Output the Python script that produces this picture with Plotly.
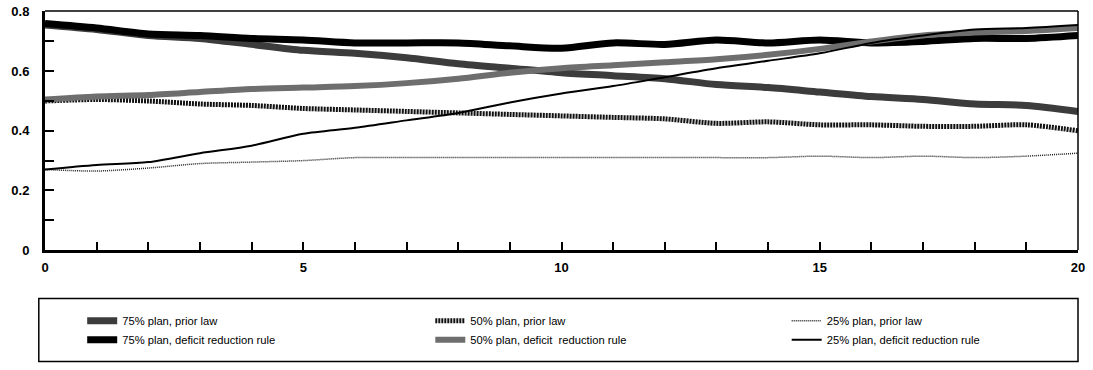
import plotly.graph_objects as go

years = list(range(0, 21))

plan75_prior = [0.755, 0.74, 0.72, 0.71, 0.69, 0.67, 0.66, 0.645, 0.625, 0.61, 0.595,
                0.585, 0.575, 0.555, 0.545, 0.53, 0.515, 0.505, 0.49, 0.485, 0.465]
plan75_drr = [0.76, 0.745, 0.725, 0.72, 0.71, 0.705, 0.695, 0.695, 0.695, 0.685, 0.677,
              0.695, 0.69, 0.705, 0.695, 0.705, 0.695, 0.70, 0.71, 0.71, 0.72]
plan50_prior = [0.50, 0.505, 0.50, 0.49, 0.485, 0.475, 0.47, 0.465, 0.46, 0.455, 0.45,
                0.445, 0.44, 0.425, 0.43, 0.42, 0.42, 0.415, 0.415, 0.42, 0.40]
plan50_drr = [0.505, 0.515, 0.52, 0.53, 0.54, 0.545, 0.55, 0.56, 0.575, 0.595, 0.61,
              0.62, 0.63, 0.64, 0.655, 0.675, 0.70, 0.72, 0.73, 0.735, 0.745]
plan25_prior = [0.27, 0.265, 0.275, 0.29, 0.295, 0.30, 0.31, 0.31, 0.31, 0.31, 0.31,
                0.31, 0.31, 0.31, 0.31, 0.315, 0.31, 0.315, 0.31, 0.315, 0.325]
plan25_drr = [0.27, 0.285, 0.295, 0.325, 0.35, 0.39, 0.41, 0.435, 0.46, 0.495, 0.525,
              0.55, 0.58, 0.61, 0.635, 0.66, 0.695, 0.72, 0.74, 0.745, 0.755]

names = ["75% plan, prior law", "75% plan, deficit reduction rule",
         "50% plan, prior law", "50% plan, deficit  reduction rule",
         "25% plan, prior law", "25% plan, deficit reduction rule"]

x_tickvals = list(range(0, 21))
x_ticktext = [str(v) if v % 5 == 0 else "" for v in x_tickvals]
y_tickvals = [0, 0.1, 0.2, 0.3, 0.4, 0.5, 0.6, 0.7, 0.8]
y_ticktext = ["0", "", "0.2", "", "0.4", "", "0.6", "", "0.8"]

series = [plan75_prior, plan75_drr, plan50_prior, plan50_drr, plan25_prior, plan25_drr]
styles = [
    dict(color="#3c3c3c", width=7, dash="solid"),
    dict(color="#000000", width=7, dash="solid"),
    dict(color="#111111", width=5, dash="2px,1px"),
    dict(color="#6e6e6e", width=6, dash="solid"),
    dict(color="#222222", width=1.5, dash="1px,1px"),
    dict(color="#000000", width=2, dash="solid"),
]
legend_ids = ["legend", "legend", "legend2", "legend2", "legend3", "legend3"]

fig = go.Figure()
for i, (name, ys, st, lg) in enumerate(zip(names, series, styles, legend_ids)):
    fig.add_trace(go.Scatter(x=years, y=ys, mode="lines", name=name,
                             legend=lg, legendgroup="g%d" % i,
                             line=dict(shape="spline", smoothing=0.8, **st)))

leg_common = dict(orientation="v", xanchor="left", y=-0.235, yanchor="top",
                  font=dict(size=11.2), bgcolor="rgba(0,0,0,0)", borderwidth=0,
                  tracegroupgap=4, traceorder="normal")

fig.update_layout(
    width=1093, height=370,
    margin=dict(l=45, r=15, t=4, b=120),
    paper_bgcolor="white", plot_bgcolor="white",
    font=dict(family="Liberation Sans, Arial, sans-serif", color="black"),
    showlegend=True,
    legend=dict(x=0.036, **leg_common),
    legend2=dict(x=0.373, **leg_common),
    legend3=dict(x=0.718, **leg_common),
    xaxis=dict(range=[0, 20], tickvals=x_tickvals, ticktext=x_ticktext,
               ticks="inside", ticklen=8, tickwidth=2, tickcolor="black",
               showline=True, linewidth=3, linecolor="black", showgrid=False,
               zeroline=False, ticklabelstandoff=3,
               tickfont=dict(size=13, family="Liberation Sans, Arial", weight="bold")),
    yaxis=dict(range=[0, 0.802], tickvals=y_tickvals, ticktext=y_ticktext,
               ticks="inside", ticklen=9, tickwidth=2, tickcolor="black",
               showline=True, linewidth=3, linecolor="black", showgrid=False,
               zeroline=False, ticklabelstandoff=10, ticklabeloverflow="allow",
               tickfont=dict(size=13, family="Liberation Sans, Arial", weight="bold")),
    shapes=[
        dict(type="line", xref="paper", yref="paper", x0=0, x1=1, y0=1, y1=1,
             line=dict(color="black", width=1.5)),
        dict(type="line", xref="paper", yref="paper", x0=1, x1=1, y0=0, y1=1,
             line=dict(color="black", width=1.5)),
        dict(type="rect", xref="paper", yref="paper", x0=-0.006, x1=1.0,
             y0=-0.467, y1=-0.203, line=dict(color="black", width=1.5)),
    ],
)

fig.write_html("out.html", config={"displayModeBar": False},
               post_script="document.body.style.margin='0px';")
